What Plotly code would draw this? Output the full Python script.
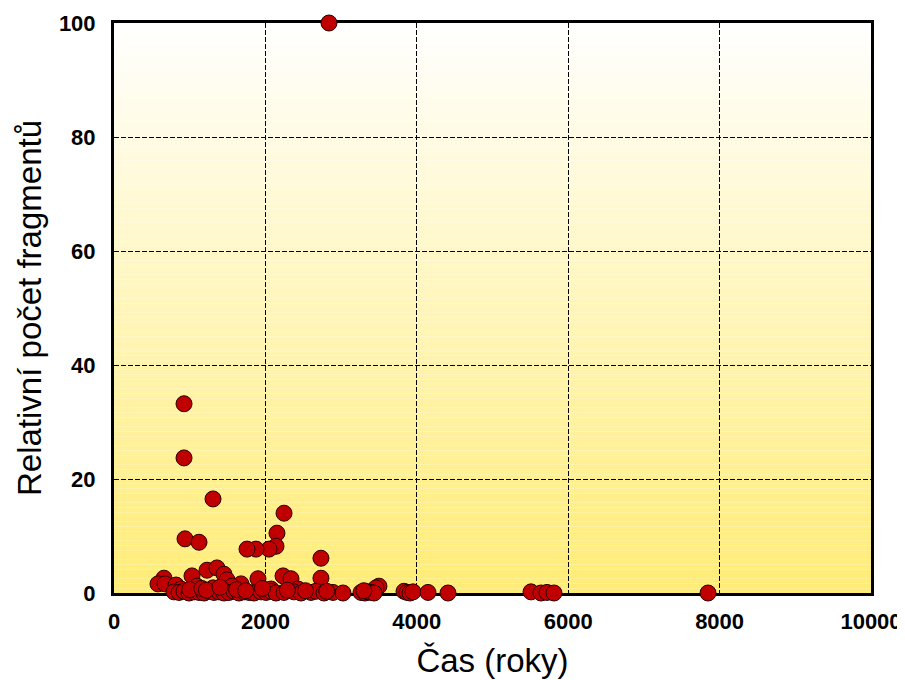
import plotly.graph_objects as go

# Time (years) and relative fragment count
cas_roky = [
    2840, 925, 925, 938, 1123, 1308, 2246, 2153, 2140, 2048, 1876, 1757,
    2734, 2734, 1229, 1360, 1030, 660, 581, 674, 1453, 1493, 1902, 2233,
    2338, 3500, 3461, 1678, 1559, 819, 885, 1096, 1308, 2074, 2430,
    793, 859, 925, 991, 1057, 1123, 1189, 1255, 1321, 1387, 1453, 1519,
    1585, 1651, 1717, 1783, 1849, 1942, 2008, 2074, 2140, 2246, 2378,
    2470, 2602, 2668, 2774, 2893, 3025, 3263, 3316, 3355, 3395, 3435,
    3831, 3871, 3910, 3950, 4148, 4412, 5509, 5641, 5720, 5812, 7847,
    1000, 1160, 1220, 1400, 1620, 1740, 1960, 2290, 2530, 2810, 3300,
]
relativni_pocet = [
    100, 33.2, 23.7, 9.5, 8.9, 16.5, 14.0, 10.5, 8.2, 7.7, 7.7, 7.7,
    6.1, 2.6, 4.0, 4.4, 3.0, 2.6, 1.6, 1.6, 3.3, 2.3, 2.5, 3.0,
    2.5, 1.2, 0.9, 1.6, 1.2, 1.4, 0.7, 1.2, 0.9, 0.7, 0.7,
    0.2, 0.1, 0.3, 0.0, 0.2, 0.1, 0.0, 0.3, 0.1, 0.2, 0.0, 0.1,
    0.3, 0.0, 0.2, 0.1, 0.0, 0.2, 0.1, 0.3, 0.0, 0.1, 0.2,
    0.0, 0.1, 0.3, 0.0, 0.1, 0.0, 0.1, 0.0, 0.2, 0.1, 0.0,
    0.3, 0.1, 0.0, 0.2, 0.1, 0.0, 0.2, 0.0, 0.1, 0.0, 0.0,
    0.6, 0.8, 0.5, 1.0, 0.6, 0.4, 0.8, 0.5, 0.4, 0.3, 0.4,
]

x_ticks = [0, 2000, 4000, 6000, 8000, 10000]
y_ticks = [0, 20, 40, 60, 80, 100]

fig = go.Figure()
fig.add_trace(go.Scatter(
    x=cas_roky, y=relativni_pocet, mode="markers", cliponaxis=False,
    marker=dict(size=16, color="#C00000", line=dict(color="#2a0000", width=1)),
    showlegend=False,
))

# vertical gradient background (white -> yellow)
shapes = []
n = 120
top = (255, 255, 255)
bot = (255, 236, 118)
for i in range(n):
    t = (i + 0.5) / n
    c = tuple(round(top[k] + (bot[k] - top[k]) * t) for k in range(3))
    shapes.append(dict(
        type="rect", xref="paper", yref="paper", layer="below",
        x0=0, x1=1, y0=1 - (i + 1) / n, y1=1 - i / n,
        fillcolor="rgb(%d,%d,%d)" % c, line=dict(width=0),
    ))

font = "Liberation Sans, Arial, sans-serif"
tickfont = dict(size=22, family=font, weight="bold")
fig.update_layout(
    width=905, height=680,
    margin=dict(l=106, r=42, t=15, b=95),
    paper_bgcolor="white", plot_bgcolor="rgba(0,0,0,0)",
    shapes=shapes,
    font=dict(family=font, color="black"),
    xaxis=dict(
        range=[0, 10000], tickvals=x_ticks, ticktext=[str(v) for v in x_ticks],
        showline=True, linecolor="black", linewidth=3, mirror=True,
        showgrid=True, gridcolor="black", gridwidth=1.2, griddash="5px,2px",
        zeroline=False, ticks="", tickfont=tickfont, ticklabelstandoff=7,
        title=dict(text="Čas (roky)", font=dict(size=33, family=font), standoff=16),
        layer="below traces", automargin=False,
    ),
    yaxis=dict(
        range=[0, 100], tickvals=y_ticks, ticktext=[str(v) for v in y_ticks],
        showline=True, linecolor="black", linewidth=3, mirror=True,
        showgrid=True, gridcolor="black", gridwidth=1.2, griddash="5px,2px",
        zeroline=False, ticks="", tickfont=tickfont, ticklabelstandoff=11,
        title=dict(text="Relativní počet fragmentů", font=dict(size=33, family=font), standoff=8),
        layer="below traces", automargin=False,
    ),
)

fig.write_html("out.html")
